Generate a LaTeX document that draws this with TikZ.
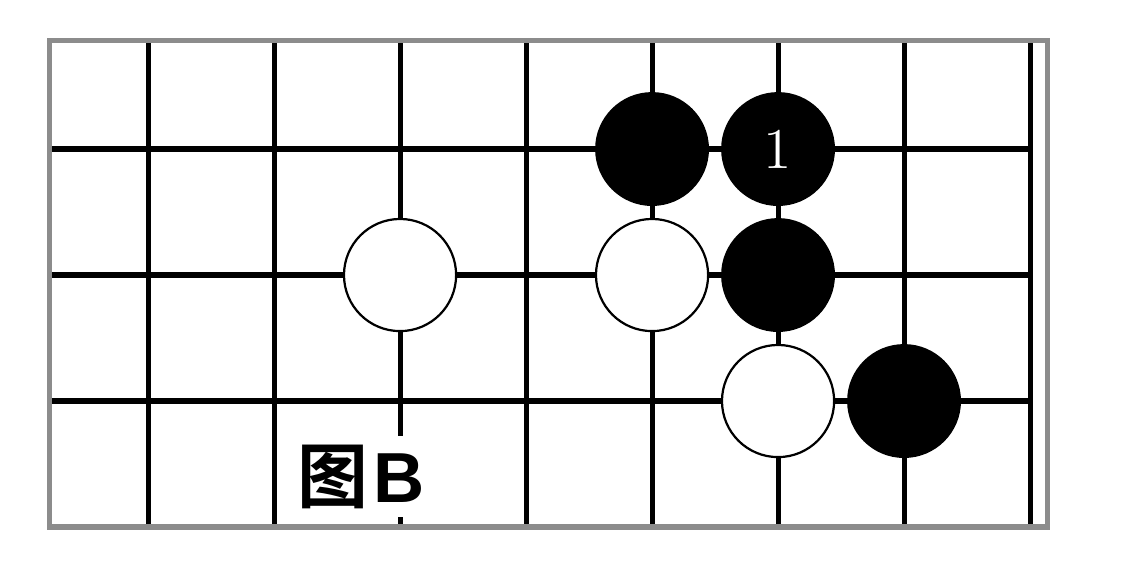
\documentclass[tikz,border=0pt]{standalone}
\usepackage{fontspec}
\newfontfamily\cjkbold{Noto Sans CJK SC Bold}
\newfontfamily\labelsans{Liberation Sans}
\usetikzlibrary{positioning}
\definecolor{rimgray}{RGB}{140,140,140}
\tikzset{
  gridline/.style={line width=1.15pt,black},
  blackstone/.style={circle,fill=black,draw=black,minimum size=0.89cm,inner sep=0pt},
  whitestone/.style={circle,fill=white,draw=black,line width=0.5pt,minimum size=0.89cm,inner sep=0pt}
}
\begin{document}
\begin{tikzpicture}
\useasboundingbox (-0.175,-0.357) rectangle (8.825,4.183);
\fill[white] (-0.175,-0.357) rectangle (8.825,4.183);

% the board
\foreach \x in {1,...,8} \draw[gridline] (\x,0) -- (\x,3.86);
\foreach \y in {1,2,3} \draw[gridline] (0.22,\y) -- (8,\y);
\draw[rimgray,line width=1.2pt] (0.22,0) rectangle (8.14,3.86);

% label
\node[fill=white,inner sep=2pt] (caption) at (2.69,0.40)
  {\fontsize{16}{16}\selectfont\cjkbold 图\kern1pt\labelsans\bfseries B};

% stones
\node[blackstone] (b1) at (5,3) {};
\node[blackstone] (b2) at (6,3) {\color{white}\fontsize{13}{13}\selectfont 1};
\node[blackstone] (b3) at (6,2) {};
\node[blackstone] (b4) at (7,1) {};
\node[whitestone] (w1) at (3,2) {};
\node[whitestone] (w2) at (5,2) {};
\node[whitestone] (w3) at (6,1) {};
\end{tikzpicture}
\end{document}
